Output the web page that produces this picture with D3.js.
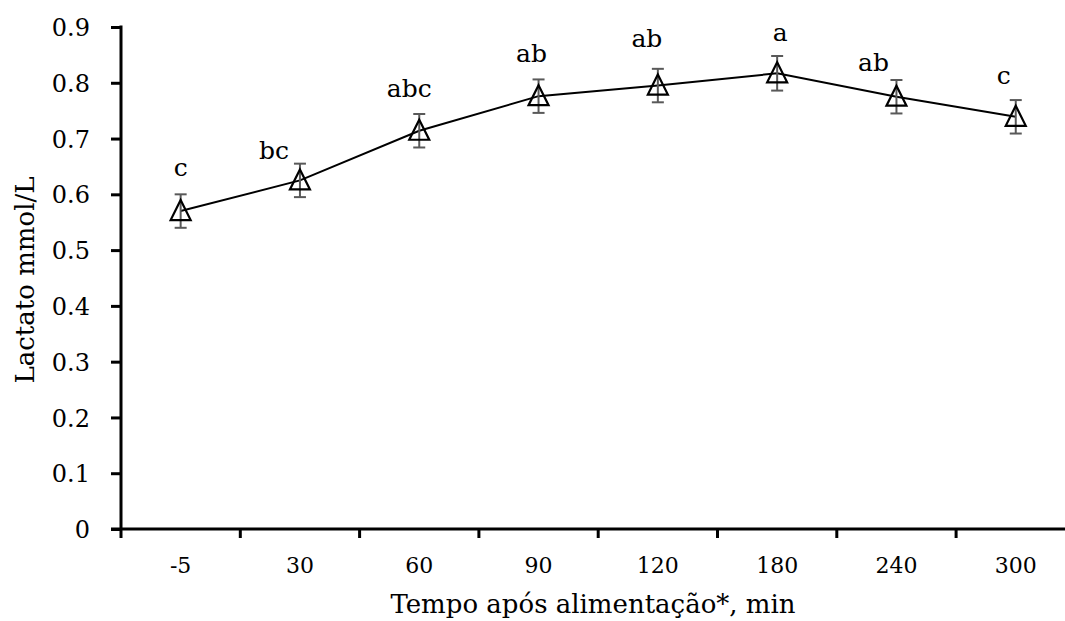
<!DOCTYPE html>
<html>
<head>
<meta charset="utf-8">
<script src="https://cdn.jsdelivr.net/npm/d3@7"></script>
<style>
  body { margin: 0; background: #fff; }
  svg { display: block; font-family: "DejaVu Serif", serif; }
</style>
</head>
<body>
<svg id="chart" width="1065" height="621"></svg>
<script>
const times = ["-5", "30", "60", "90", "120", "180", "240", "300"];
const lactate = [0.570, 0.625, 0.714, 0.776, 0.795, 0.817, 0.775, 0.739];
const stdErr = [0.030, 0.030, 0.030, 0.030, 0.030, 0.031, 0.030, 0.030];
const letters = ["c", "bc", "abc", "ab", "ab", "a", "ab", "c"];
const yTicks = [0, 0.1, 0.2, 0.3, 0.4, 0.5, 0.6, 0.7, 0.8, 0.9];

// hand placed text boxes in the original, offsets from each point
const letterDx = [0, -26, -10, -7, -11, 3, -23, -12];
const letterDy = [-35, -21, -34, -34, -39, -32, -26, -33];

const svg = d3.select("#chart");
const plotLeft = 121, plotTop = 27, plotBottom = 529, step = 119.3;

const x = d3.scaleBand()
  .domain(times)
  .range([plotLeft, plotLeft + step * times.length])
  .paddingInner(0)
  .paddingOuter(0);

const y = d3.scaleLinear().domain([0, 0.9]).range([plotBottom, plotTop]);

const cx = (d) => x(d) + x.bandwidth() / 2;

// y axis
const yAxis = svg.append("g")
  .attr("transform", `translate(${plotLeft},0)`)
  .call(d3.axisLeft(y).tickValues(yTicks).tickSize(10).tickSizeOuter(0)
    .tickFormat((d) => d === 0 ? "0" : d3.format(".1f")(d)));
yAxis.select(".domain").attr("stroke", "#000").attr("stroke-width", 3)
  .attr("d", `M0,${plotTop - 1.5}V${plotBottom}`);
yAxis.selectAll(".tick line").attr("stroke", "#000").attr("stroke-width", 3);
yAxis.selectAll(".tick text")
  .attr("x", -31)
  .attr("dy", "0.36em")
  .attr("fill", "#000")
  .style("font-size", "24px")
  .style("font-family", "DejaVu Serif");

// x axis: ticks sit on the category boundaries
const xAxis = svg.append("g")
  .attr("transform", `translate(0,${plotBottom})`);
xAxis.append("line")
  .attr("x1", plotLeft - 10)
  .attr("x2", 1065)
  .attr("stroke", "#000")
  .attr("stroke-width", 3);
xAxis.selectAll("line.tick")
  .data(times)
  .enter()
  .append("line")
  .attr("class", "tick")
  .attr("x1", (d) => x(d))
  .attr("x2", (d) => x(d))
  .attr("y1", 0)
  .attr("y2", 9)
  .attr("stroke", "#000")
  .attr("stroke-width", 3);
xAxis.selectAll("text")
  .data(times)
  .enter()
  .append("text")
  .attr("x", (d) => cx(d))
  .attr("y", 44)
  .attr("text-anchor", "middle")
  .style("font-size", "22px")
  .text((d) => d);

// axis titles
svg.append("text")
  .attr("x", 593)
  .attr("y", 613)
  .attr("text-anchor", "middle")
  .style("font-size", "26px")
  .text("Tempo após alimentação*, min");

svg.append("text")
  .attr("transform", "translate(34,280) rotate(-90)")
  .attr("text-anchor", "middle")
  .style("font-size", "26px")
  .text("Lactato mmol/L");

const data = times.map((t, i) => ({ t, v: lactate[i], e: stdErr[i], l: letters[i], dx: letterDx[i], dy: letterDy[i] }));

// line
svg.append("path")
  .datum(data)
  .attr("fill", "none")
  .attr("stroke", "#000")
  .attr("stroke-width", 2)
  .attr("d", d3.line().x((d) => cx(d.t)).y((d) => y(d.v)));

// error bars
const err = svg.append("g")
  .attr("stroke", "#595959")
  .attr("stroke-width", 2);
data.forEach((d) => {
  const px = cx(d.t);
  err.append("line").attr("x1", px).attr("x2", px).attr("y1", y(d.v + d.e)).attr("y2", y(d.v - d.e));
  err.append("line").attr("x1", px - 6).attr("x2", px + 6).attr("y1", y(d.v + d.e)).attr("y2", y(d.v + d.e));
  err.append("line").attr("x1", px - 6).attr("x2", px + 6).attr("y1", y(d.v - d.e)).attr("y2", y(d.v - d.e));
});

// triangle markers
svg.selectAll("path.marker")
  .data(data)
  .enter()
  .append("path")
  .attr("class", "marker")
  .attr("transform", (d) => `translate(${cx(d.t)},${y(d.v)})`)
  .attr("d", "M0,-11L10,9L-10,9Z")
  .attr("fill", "none")
  .attr("stroke", "#000")
  .attr("stroke-width", 2.2);

// significance letters
svg.selectAll("text.letter")
  .data(data)
  .enter()
  .append("text")
  .attr("class", "letter")
  .attr("x", (d) => cx(d.t) + d.dx)
  .attr("y", (d) => y(d.v) + d.dy)
  .attr("text-anchor", "middle")
  .style("font-size", "25px")
  .text((d) => d.l);
</script>
</body>
</html>
